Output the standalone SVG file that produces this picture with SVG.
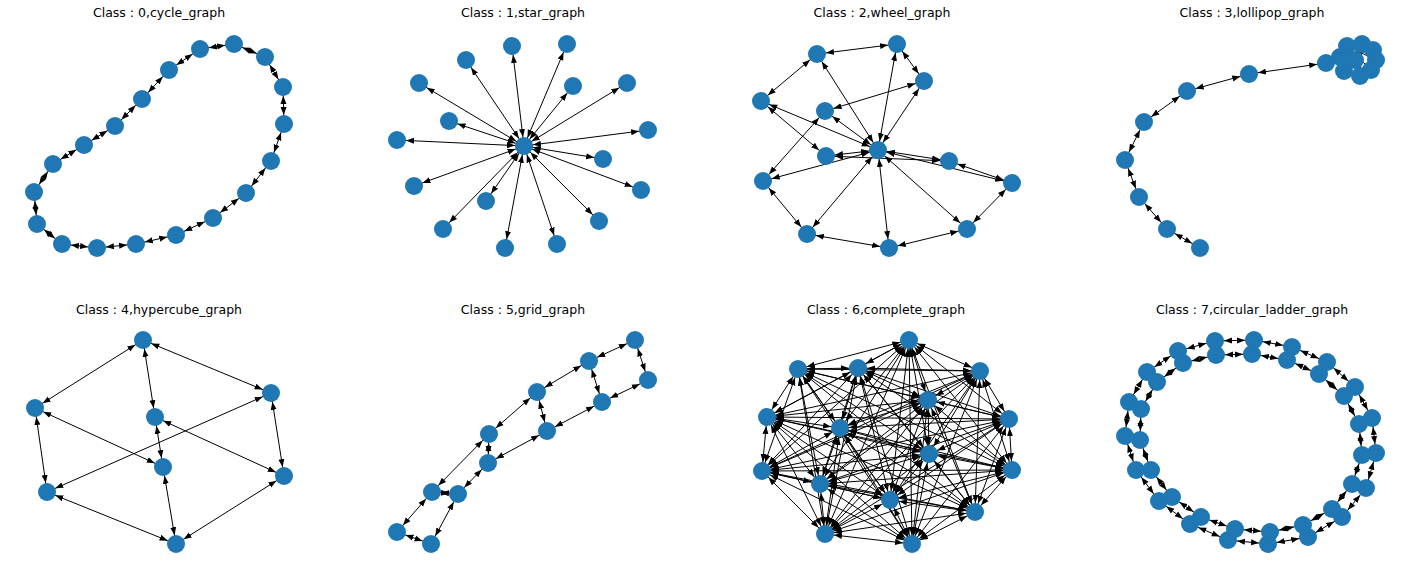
<svg xmlns="http://www.w3.org/2000/svg" width="1409" height="573" viewBox="0 0 1409 573">
<style>
text{font-family:"DejaVu Sans",sans-serif;font-size:12.5px;fill:#000;text-anchor:middle}
line{stroke:#000;stroke-width:1}
.b{marker-start:url(#a);marker-end:url(#a)}
circle{fill:#1f77b4}
</style>
<defs>
<marker id="a" markerUnits="userSpaceOnUse" markerWidth="20" markerHeight="10" viewBox="0 -5 20 10" refX="17" refY="0" orient="auto-start-reverse"><path d="M0,-3L8,0L0,3Z" fill="#000"/></marker>
<g id="n"><circle r="9"/></g>
</defs>
<rect width="1409" height="573" fill="#fff"/>
<g id="titles">
<text x="159" y="17">Class : 0,cycle_graph</text>
<text x="523" y="17">Class : 1,star_graph</text>
<text x="882" y="17">Class : 2,wheel_graph</text>
<text x="1252" y="17">Class : 3,lollipop_graph</text>
<text x="159" y="314">Class : 4,hypercube_graph</text>
<text x="523" y="314">Class : 5,grid_graph</text>
<text x="886" y="314">Class : 6,complete_graph</text>
<text x="1252" y="314">Class : 7,circular_ladder_graph</text>
</g>
<g id="connectors">
<!-- cycle -->
<line class="b" x1="234" y1="44" x2="265" y2="57"/><line class="b" x1="265" y1="57" x2="283" y2="87"/><line class="b" x1="283" y1="87" x2="284" y2="124"/><line class="b" x1="284" y1="124" x2="271" y2="161"/><line class="b" x1="271" y1="161" x2="246" y2="193"/><line class="b" x1="246" y1="193" x2="213" y2="218"/><line class="b" x1="213" y1="218" x2="176" y2="235"/><line class="b" x1="176" y1="235" x2="136" y2="244"/><line class="b" x1="136" y1="244" x2="97" y2="248"/><line class="b" x1="97" y1="248" x2="62" y2="244"/><line class="b" x1="62" y1="244" x2="37" y2="224"/><line class="b" x1="37" y1="224" x2="34" y2="192"/><line class="b" x1="34" y1="192" x2="53" y2="164"/><line class="b" x1="53" y1="164" x2="84" y2="145"/><line class="b" x1="84" y1="145" x2="115" y2="126"/><line class="b" x1="115" y1="126" x2="142" y2="99"/><line class="b" x1="142" y1="99" x2="169" y2="70"/><line class="b" x1="169" y1="70" x2="200" y2="49"/><line class="b" x1="200" y1="49" x2="234" y2="44"/>
<!-- star -->
<line class="b" x1="524" y1="146" x2="512" y2="46"/><line class="b" x1="524" y1="146" x2="567" y2="44"/><line class="b" x1="524" y1="146" x2="466" y2="60"/><line class="b" x1="524" y1="146" x2="419" y2="83"/><line class="b" x1="524" y1="146" x2="573" y2="86"/><line class="b" x1="524" y1="146" x2="627" y2="83"/><line class="b" x1="524" y1="146" x2="449" y2="121"/><line class="b" x1="524" y1="146" x2="397" y2="140"/><line class="b" x1="524" y1="146" x2="648" y2="130"/><line class="b" x1="524" y1="146" x2="603" y2="159"/><line class="b" x1="524" y1="146" x2="414" y2="186"/><line class="b" x1="524" y1="146" x2="641" y2="190"/><line class="b" x1="524" y1="146" x2="486" y2="201"/><line class="b" x1="524" y1="146" x2="443" y2="229"/><line class="b" x1="524" y1="146" x2="599" y2="221"/><line class="b" x1="524" y1="146" x2="505" y2="248"/><line class="b" x1="524" y1="146" x2="557" y2="244"/>
<!-- wheel -->
<line class="b" x1="817" y1="54" x2="897" y2="44"/><line class="b" x1="897" y1="44" x2="924" y2="81"/><line class="b" x1="924" y1="81" x2="825" y2="111"/><line class="b" x1="825" y1="111" x2="763" y2="181"/><line class="b" x1="763" y1="181" x2="807" y2="234"/><line class="b" x1="807" y1="234" x2="889" y2="248"/><line class="b" x1="889" y1="248" x2="967" y2="229"/><line class="b" x1="967" y1="229" x2="1012" y2="183"/><line class="b" x1="1012" y1="183" x2="949" y2="161"/><line class="b" x1="949" y1="161" x2="826" y2="156"/><line class="b" x1="826" y1="156" x2="761" y2="101"/><line class="b" x1="761" y1="101" x2="817" y2="54"/>
<line class="b" x1="878" y1="150" x2="817" y2="54"/><line class="b" x1="878" y1="150" x2="897" y2="44"/><line class="b" x1="878" y1="150" x2="924" y2="81"/><line class="b" x1="878" y1="150" x2="825" y2="111"/><line class="b" x1="878" y1="150" x2="761" y2="101"/><line class="b" x1="878" y1="150" x2="826" y2="156"/><line class="b" x1="878" y1="150" x2="949" y2="161"/><line class="b" x1="878" y1="150" x2="1012" y2="183"/><line class="b" x1="878" y1="150" x2="763" y2="181"/><line class="b" x1="878" y1="150" x2="967" y2="229"/><line class="b" x1="878" y1="150" x2="889" y2="248"/><line class="b" x1="878" y1="150" x2="807" y2="234"/>
<!-- lollipop -->
<line class="b" x1="1200" y1="248" x2="1167" y2="229"/><line class="b" x1="1167" y1="229" x2="1139" y2="197"/><line class="b" x1="1139" y1="197" x2="1125" y2="160"/><line class="b" x1="1125" y1="160" x2="1144" y2="122"/><line class="b" x1="1144" y1="122" x2="1187" y2="91"/><line class="b" x1="1187" y1="91" x2="1249" y2="74"/><line class="b" x1="1249" y1="74" x2="1326" y2="63"/><line class="b" x1="1326" y1="63" x2="1340" y2="57"/>
<line x1="1347" y1="46" x2="1371" y2="70"/><line x1="1362" y1="44" x2="1344" y2="71"/><line x1="1373" y1="50" x2="1340" y2="57"/><line x1="1376" y1="60" x2="1347" y2="46"/><line x1="1360" y1="76" x2="1362" y2="44"/>
<!-- hypercube -->
<line class="b" x1="143" y1="340" x2="271" y2="393"/><line class="b" x1="143" y1="340" x2="35" y2="408"/><line class="b" x1="143" y1="340" x2="155" y2="417"/><line class="b" x1="271" y1="393" x2="284" y2="476"/><line class="b" x1="271" y1="393" x2="47" y2="492"/><line class="b" x1="35" y1="408" x2="47" y2="492"/><line class="b" x1="35" y1="408" x2="163" y2="467"/><line class="b" x1="155" y1="417" x2="284" y2="476"/><line class="b" x1="155" y1="417" x2="163" y2="467"/><line class="b" x1="47" y1="492" x2="176" y2="544"/><line class="b" x1="284" y1="476" x2="176" y2="544"/><line class="b" x1="163" y1="467" x2="176" y2="544"/>
<!-- grid -->
<line class="b" x1="635" y1="340" x2="589" y2="361"/><line class="b" x1="589" y1="361" x2="537" y2="392"/><line class="b" x1="537" y1="392" x2="489" y2="434"/><line class="b" x1="489" y1="434" x2="432" y2="492"/><line class="b" x1="432" y1="492" x2="397" y2="532"/>
<line class="b" x1="648" y1="380" x2="602" y2="402"/><line class="b" x1="602" y1="402" x2="547" y2="431"/><line class="b" x1="547" y1="431" x2="488" y2="463"/><line class="b" x1="488" y1="463" x2="458" y2="494"/><line class="b" x1="458" y1="494" x2="431" y2="544"/>
<line class="b" x1="635" y1="340" x2="648" y2="380"/><line class="b" x1="589" y1="361" x2="602" y2="402"/><line class="b" x1="537" y1="392" x2="547" y2="431"/><line class="b" x1="489" y1="434" x2="488" y2="463"/><line class="b" x1="432" y1="492" x2="458" y2="494"/><line class="b" x1="397" y1="532" x2="431" y2="544"/>
<!-- complete -->
<line class="b" x1="909" y1="340" x2="858" y2="368"/><line class="b" x1="909" y1="340" x2="798" y2="369"/><line class="b" x1="909" y1="340" x2="980" y2="371"/><line class="b" x1="909" y1="340" x2="928" y2="400"/><line class="b" x1="909" y1="340" x2="767" y2="417"/><line class="b" x1="909" y1="340" x2="840" y2="428"/><line class="b" x1="909" y1="340" x2="1009" y2="419"/><line class="b" x1="909" y1="340" x2="762" y2="471"/><line class="b" x1="909" y1="340" x2="929" y2="454"/><line class="b" x1="909" y1="340" x2="1012" y2="470"/><line class="b" x1="909" y1="340" x2="820" y2="484"/><line class="b" x1="909" y1="340" x2="890" y2="500"/><line class="b" x1="909" y1="340" x2="975" y2="512"/><line class="b" x1="909" y1="340" x2="825" y2="534"/><line class="b" x1="909" y1="340" x2="912" y2="544"/>
<line class="b" x1="858" y1="368" x2="798" y2="369"/><line class="b" x1="858" y1="368" x2="980" y2="371"/><line class="b" x1="858" y1="368" x2="928" y2="400"/><line class="b" x1="858" y1="368" x2="767" y2="417"/><line class="b" x1="858" y1="368" x2="840" y2="428"/><line class="b" x1="858" y1="368" x2="1009" y2="419"/><line class="b" x1="858" y1="368" x2="762" y2="471"/><line class="b" x1="858" y1="368" x2="929" y2="454"/><line class="b" x1="858" y1="368" x2="1012" y2="470"/><line class="b" x1="858" y1="368" x2="820" y2="484"/><line class="b" x1="858" y1="368" x2="890" y2="500"/><line class="b" x1="858" y1="368" x2="975" y2="512"/><line class="b" x1="858" y1="368" x2="825" y2="534"/><line class="b" x1="858" y1="368" x2="912" y2="544"/>
<line class="b" x1="798" y1="369" x2="980" y2="371"/><line class="b" x1="798" y1="369" x2="928" y2="400"/><line class="b" x1="798" y1="369" x2="767" y2="417"/><line class="b" x1="798" y1="369" x2="840" y2="428"/><line class="b" x1="798" y1="369" x2="1009" y2="419"/><line class="b" x1="798" y1="369" x2="762" y2="471"/><line class="b" x1="798" y1="369" x2="929" y2="454"/><line class="b" x1="798" y1="369" x2="1012" y2="470"/><line class="b" x1="798" y1="369" x2="820" y2="484"/><line class="b" x1="798" y1="369" x2="890" y2="500"/><line class="b" x1="798" y1="369" x2="975" y2="512"/><line class="b" x1="798" y1="369" x2="825" y2="534"/><line class="b" x1="798" y1="369" x2="912" y2="544"/>
<line class="b" x1="980" y1="371" x2="928" y2="400"/><line class="b" x1="980" y1="371" x2="767" y2="417"/><line class="b" x1="980" y1="371" x2="840" y2="428"/><line class="b" x1="980" y1="371" x2="1009" y2="419"/><line class="b" x1="980" y1="371" x2="762" y2="471"/><line class="b" x1="980" y1="371" x2="929" y2="454"/><line class="b" x1="980" y1="371" x2="1012" y2="470"/><line class="b" x1="980" y1="371" x2="820" y2="484"/><line class="b" x1="980" y1="371" x2="890" y2="500"/><line class="b" x1="980" y1="371" x2="975" y2="512"/><line class="b" x1="980" y1="371" x2="825" y2="534"/><line class="b" x1="980" y1="371" x2="912" y2="544"/>
<line class="b" x1="928" y1="400" x2="767" y2="417"/><line class="b" x1="928" y1="400" x2="840" y2="428"/><line class="b" x1="928" y1="400" x2="1009" y2="419"/><line class="b" x1="928" y1="400" x2="762" y2="471"/><line class="b" x1="928" y1="400" x2="929" y2="454"/><line class="b" x1="928" y1="400" x2="1012" y2="470"/><line class="b" x1="928" y1="400" x2="820" y2="484"/><line class="b" x1="928" y1="400" x2="890" y2="500"/><line class="b" x1="928" y1="400" x2="975" y2="512"/><line class="b" x1="928" y1="400" x2="825" y2="534"/><line class="b" x1="928" y1="400" x2="912" y2="544"/>
<line class="b" x1="767" y1="417" x2="840" y2="428"/><line class="b" x1="767" y1="417" x2="1009" y2="419"/><line class="b" x1="767" y1="417" x2="762" y2="471"/><line class="b" x1="767" y1="417" x2="929" y2="454"/><line class="b" x1="767" y1="417" x2="1012" y2="470"/><line class="b" x1="767" y1="417" x2="820" y2="484"/><line class="b" x1="767" y1="417" x2="890" y2="500"/><line class="b" x1="767" y1="417" x2="975" y2="512"/><line class="b" x1="767" y1="417" x2="825" y2="534"/><line class="b" x1="767" y1="417" x2="912" y2="544"/>
<line class="b" x1="840" y1="428" x2="1009" y2="419"/><line class="b" x1="840" y1="428" x2="762" y2="471"/><line class="b" x1="840" y1="428" x2="929" y2="454"/><line class="b" x1="840" y1="428" x2="1012" y2="470"/><line class="b" x1="840" y1="428" x2="820" y2="484"/><line class="b" x1="840" y1="428" x2="890" y2="500"/><line class="b" x1="840" y1="428" x2="975" y2="512"/><line class="b" x1="840" y1="428" x2="825" y2="534"/><line class="b" x1="840" y1="428" x2="912" y2="544"/>
<line class="b" x1="1009" y1="419" x2="762" y2="471"/><line class="b" x1="1009" y1="419" x2="929" y2="454"/><line class="b" x1="1009" y1="419" x2="1012" y2="470"/><line class="b" x1="1009" y1="419" x2="820" y2="484"/><line class="b" x1="1009" y1="419" x2="890" y2="500"/><line class="b" x1="1009" y1="419" x2="975" y2="512"/><line class="b" x1="1009" y1="419" x2="825" y2="534"/><line class="b" x1="1009" y1="419" x2="912" y2="544"/>
<line class="b" x1="762" y1="471" x2="929" y2="454"/><line class="b" x1="762" y1="471" x2="1012" y2="470"/><line class="b" x1="762" y1="471" x2="820" y2="484"/><line class="b" x1="762" y1="471" x2="890" y2="500"/><line class="b" x1="762" y1="471" x2="975" y2="512"/><line class="b" x1="762" y1="471" x2="825" y2="534"/><line class="b" x1="762" y1="471" x2="912" y2="544"/>
<line class="b" x1="929" y1="454" x2="1012" y2="470"/><line class="b" x1="929" y1="454" x2="820" y2="484"/><line class="b" x1="929" y1="454" x2="890" y2="500"/><line class="b" x1="929" y1="454" x2="975" y2="512"/><line class="b" x1="929" y1="454" x2="825" y2="534"/><line class="b" x1="929" y1="454" x2="912" y2="544"/>
<line class="b" x1="1012" y1="470" x2="820" y2="484"/><line class="b" x1="1012" y1="470" x2="890" y2="500"/><line class="b" x1="1012" y1="470" x2="975" y2="512"/><line class="b" x1="1012" y1="470" x2="825" y2="534"/><line class="b" x1="1012" y1="470" x2="912" y2="544"/>
<line class="b" x1="820" y1="484" x2="890" y2="500"/><line class="b" x1="820" y1="484" x2="975" y2="512"/><line class="b" x1="820" y1="484" x2="825" y2="534"/><line class="b" x1="820" y1="484" x2="912" y2="544"/>
<line class="b" x1="890" y1="500" x2="975" y2="512"/><line class="b" x1="890" y1="500" x2="825" y2="534"/><line class="b" x1="890" y1="500" x2="912" y2="544"/>
<line class="b" x1="975" y1="512" x2="825" y2="534"/><line class="b" x1="975" y1="512" x2="912" y2="544"/>
<line class="b" x1="825" y1="534" x2="912" y2="544"/>
<!-- circular ladder outer -->
<line class="b" x1="1215" y1="341" x2="1254" y2="340"/><line class="b" x1="1254" y1="340" x2="1292" y2="347"/><line class="b" x1="1292" y1="347" x2="1327" y2="362"/><line class="b" x1="1327" y1="362" x2="1355" y2="387"/><line class="b" x1="1355" y1="387" x2="1372" y2="418"/><line class="b" x1="1372" y1="418" x2="1376" y2="453"/><line class="b" x1="1376" y1="453" x2="1366" y2="488"/><line class="b" x1="1366" y1="488" x2="1342" y2="517"/><line class="b" x1="1342" y1="517" x2="1308" y2="537"/><line class="b" x1="1308" y1="537" x2="1268" y2="544"/><line class="b" x1="1268" y1="544" x2="1228" y2="540"/><line class="b" x1="1228" y1="540" x2="1190" y2="524"/><line class="b" x1="1190" y1="524" x2="1159" y2="501"/><line class="b" x1="1159" y1="501" x2="1136" y2="470"/><line class="b" x1="1136" y1="470" x2="1125" y2="436"/><line class="b" x1="1125" y1="436" x2="1129" y2="402"/><line class="b" x1="1129" y1="402" x2="1147" y2="372"/><line class="b" x1="1147" y1="372" x2="1178" y2="351"/><line class="b" x1="1178" y1="351" x2="1215" y2="341"/>
<!-- inner -->
<line class="b" x1="1216" y1="355" x2="1252" y2="354"/><line class="b" x1="1252" y1="354" x2="1287" y2="360"/><line class="b" x1="1287" y1="360" x2="1319" y2="374"/><line class="b" x1="1319" y1="374" x2="1344" y2="396"/><line class="b" x1="1344" y1="396" x2="1359" y2="424"/><line class="b" x1="1359" y1="424" x2="1362" y2="455"/><line class="b" x1="1362" y1="455" x2="1352" y2="484"/><line class="b" x1="1352" y1="484" x2="1332" y2="509"/><line class="b" x1="1332" y1="509" x2="1303" y2="525"/><line class="b" x1="1303" y1="525" x2="1270" y2="532"/><line class="b" x1="1270" y1="532" x2="1235" y2="529"/><line class="b" x1="1235" y1="529" x2="1201" y2="517"/><line class="b" x1="1201" y1="517" x2="1172" y2="497"/><line class="b" x1="1172" y1="497" x2="1151" y2="470"/><line class="b" x1="1151" y1="470" x2="1140" y2="440"/><line class="b" x1="1140" y1="440" x2="1141" y2="409"/><line class="b" x1="1141" y1="409" x2="1157" y2="382"/><line class="b" x1="1157" y1="382" x2="1183" y2="363"/><line class="b" x1="1183" y1="363" x2="1216" y2="355"/>
<!-- rungs -->
<line x1="1215" y1="341" x2="1216" y2="355"/><line x1="1254" y1="340" x2="1252" y2="354"/><line x1="1292" y1="347" x2="1287" y2="360"/><line x1="1327" y1="362" x2="1319" y2="374"/><line x1="1355" y1="387" x2="1344" y2="396"/><line x1="1372" y1="418" x2="1359" y2="424"/><line x1="1376" y1="453" x2="1362" y2="455"/><line x1="1366" y1="488" x2="1352" y2="484"/><line x1="1342" y1="517" x2="1332" y2="509"/><line x1="1308" y1="537" x2="1303" y2="525"/><line x1="1268" y1="544" x2="1270" y2="532"/><line x1="1228" y1="540" x2="1235" y2="529"/><line x1="1190" y1="524" x2="1201" y2="517"/><line x1="1159" y1="501" x2="1172" y2="497"/><line x1="1136" y1="470" x2="1151" y2="470"/><line x1="1125" y1="436" x2="1140" y2="440"/><line x1="1129" y1="402" x2="1141" y2="409"/><line x1="1147" y1="372" x2="1157" y2="382"/><line x1="1178" y1="351" x2="1183" y2="363"/>
</g>
<g id="nodes">
<g id="cycle"><use href="#n" x="234" y="44"/><use href="#n" x="265" y="57"/><use href="#n" x="283" y="87"/><use href="#n" x="284" y="124"/><use href="#n" x="271" y="161"/><use href="#n" x="246" y="193"/><use href="#n" x="213" y="218"/><use href="#n" x="176" y="235"/><use href="#n" x="136" y="244"/><use href="#n" x="97" y="248"/><use href="#n" x="62" y="244"/><use href="#n" x="37" y="224"/><use href="#n" x="34" y="192"/><use href="#n" x="53" y="164"/><use href="#n" x="84" y="145"/><use href="#n" x="115" y="126"/><use href="#n" x="142" y="99"/><use href="#n" x="169" y="70"/><use href="#n" x="200" y="49"/></g>
<g id="star"><use href="#n" x="524" y="146"/><use href="#n" x="512" y="46"/><use href="#n" x="567" y="44"/><use href="#n" x="466" y="60"/><use href="#n" x="419" y="83"/><use href="#n" x="573" y="86"/><use href="#n" x="627" y="83"/><use href="#n" x="449" y="121"/><use href="#n" x="397" y="140"/><use href="#n" x="648" y="130"/><use href="#n" x="603" y="159"/><use href="#n" x="414" y="186"/><use href="#n" x="641" y="190"/><use href="#n" x="486" y="201"/><use href="#n" x="443" y="229"/><use href="#n" x="599" y="221"/><use href="#n" x="505" y="248"/><use href="#n" x="557" y="244"/></g>
<g id="wheel"><use href="#n" x="878" y="150"/><use href="#n" x="817" y="54"/><use href="#n" x="897" y="44"/><use href="#n" x="924" y="81"/><use href="#n" x="825" y="111"/><use href="#n" x="761" y="101"/><use href="#n" x="826" y="156"/><use href="#n" x="949" y="161"/><use href="#n" x="1012" y="183"/><use href="#n" x="763" y="181"/><use href="#n" x="967" y="229"/><use href="#n" x="889" y="248"/><use href="#n" x="807" y="234"/></g>
<g id="lollipop"><use href="#n" x="1200" y="248"/><use href="#n" x="1167" y="229"/><use href="#n" x="1139" y="197"/><use href="#n" x="1125" y="160"/><use href="#n" x="1144" y="122"/><use href="#n" x="1187" y="91"/><use href="#n" x="1249" y="74"/><use href="#n" x="1326" y="63"/><use href="#n" x="1340" y="57"/><use href="#n" x="1347" y="46"/><use href="#n" x="1362" y="44"/><use href="#n" x="1373" y="50"/><use href="#n" x="1376" y="60"/><use href="#n" x="1371" y="70"/><use href="#n" x="1360" y="76"/><use href="#n" x="1344" y="71"/><use href="#n" x="1355" y="60"/></g>
<g id="hypercube"><use href="#n" x="143" y="340"/><use href="#n" x="271" y="393"/><use href="#n" x="35" y="408"/><use href="#n" x="155" y="417"/><use href="#n" x="163" y="467"/><use href="#n" x="284" y="476"/><use href="#n" x="47" y="492"/><use href="#n" x="176" y="544"/></g>
<g id="grid"><use href="#n" x="635" y="340"/><use href="#n" x="648" y="380"/><use href="#n" x="589" y="361"/><use href="#n" x="602" y="402"/><use href="#n" x="537" y="392"/><use href="#n" x="547" y="431"/><use href="#n" x="489" y="434"/><use href="#n" x="488" y="463"/><use href="#n" x="432" y="492"/><use href="#n" x="458" y="494"/><use href="#n" x="397" y="532"/><use href="#n" x="431" y="544"/></g>
<g id="complete"><use href="#n" x="909" y="340"/><use href="#n" x="858" y="368"/><use href="#n" x="798" y="369"/><use href="#n" x="980" y="371"/><use href="#n" x="928" y="400"/><use href="#n" x="767" y="417"/><use href="#n" x="840" y="428"/><use href="#n" x="1009" y="419"/><use href="#n" x="762" y="471"/><use href="#n" x="929" y="454"/><use href="#n" x="1012" y="470"/><use href="#n" x="820" y="484"/><use href="#n" x="890" y="500"/><use href="#n" x="975" y="512"/><use href="#n" x="825" y="534"/><use href="#n" x="912" y="544"/></g>
<g id="ladder"><use href="#n" x="1215" y="341"/><use href="#n" x="1254" y="340"/><use href="#n" x="1292" y="347"/><use href="#n" x="1327" y="362"/><use href="#n" x="1355" y="387"/><use href="#n" x="1372" y="418"/><use href="#n" x="1376" y="453"/><use href="#n" x="1366" y="488"/><use href="#n" x="1342" y="517"/><use href="#n" x="1308" y="537"/><use href="#n" x="1268" y="544"/><use href="#n" x="1228" y="540"/><use href="#n" x="1190" y="524"/><use href="#n" x="1159" y="501"/><use href="#n" x="1136" y="470"/><use href="#n" x="1125" y="436"/><use href="#n" x="1129" y="402"/><use href="#n" x="1147" y="372"/><use href="#n" x="1178" y="351"/>
<use href="#n" x="1216" y="355"/><use href="#n" x="1252" y="354"/><use href="#n" x="1287" y="360"/><use href="#n" x="1319" y="374"/><use href="#n" x="1344" y="396"/><use href="#n" x="1359" y="424"/><use href="#n" x="1362" y="455"/><use href="#n" x="1352" y="484"/><use href="#n" x="1332" y="509"/><use href="#n" x="1303" y="525"/><use href="#n" x="1270" y="532"/><use href="#n" x="1235" y="529"/><use href="#n" x="1201" y="517"/><use href="#n" x="1172" y="497"/><use href="#n" x="1151" y="470"/><use href="#n" x="1140" y="440"/><use href="#n" x="1141" y="409"/><use href="#n" x="1157" y="382"/><use href="#n" x="1183" y="363"/></g>
</g>
</svg>
